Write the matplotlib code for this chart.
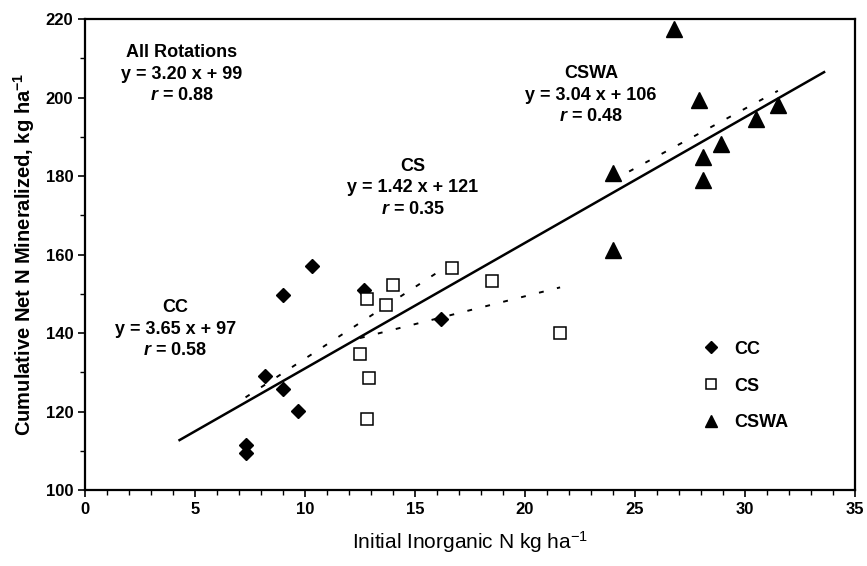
import numpy as np
import matplotlib
matplotlib.use('Agg')
import matplotlib.pyplot as plt

# Datos
cc_x = [7.3, 7.3, 8.2, 9.0, 9.0, 9.7, 10.3, 12.7, 16.2]
cc_y = [111.5, 109.5, 129.1, 149.7, 125.7, 120.1, 157.1, 151.0, 143.6]

cs_x = [12.5, 12.8, 12.9, 12.8, 13.7, 14.0, 16.7, 18.5, 21.6]
cs_y = [134.6, 148.6, 128.7, 118.2, 147.1, 152.4, 156.6, 153.3, 140.1]

cswa_x = [24.0, 24.0, 26.8, 27.9, 28.1, 28.1, 28.9, 30.5, 31.5]
cswa_y = [180.8, 161.1, 217.6, 199.4, 179.0, 184.8, 188.3, 194.5, 198.1]

# rectas de regresión: pendiente, ordenada, rango de x
fit_names = ['All Rotations', 'CC', 'CS', 'CSWA']
fit_slope = [3.20, 3.65, 1.42, 3.04]
fit_icpt = [99, 97, 121, 106]
fit_r = [0.88, 0.58, 0.35, 0.48]
fit_xmin = [4.3, 7.3, 12.5, 24.0]
fit_xmax = [33.6, 16.2, 21.6, 31.5]

plt.rcParams['font.family'] = ['Liberation Sans', 'DejaVu Sans']
plt.rcParams['font.weight'] = 'bold'
plt.rcParams['mathtext.fontset'] = 'custom'
plt.rcParams['mathtext.rm'] = 'Liberation Sans'
plt.rcParams['mathtext.it'] = 'Liberation Sans:italic:bold'
plt.rcParams['mathtext.bf'] = 'Liberation Sans:bold'

fig = plt.figure(figsize=(8.67, 5.66), dpi=100)
ax = fig.add_axes([0.098, 0.134, 0.888, 0.832])

# rectas
for i in range(4):
    xs = np.array([fit_xmin[i], fit_xmax[i]])
    ys = fit_slope[i] * xs + fit_icpt[i]
    if i == 0:
        ax.plot(xs, ys, color='black', lw=1.8, zorder=2)
    else:
        ax.plot(xs, ys, color='black', lw=1.4, dashes=(2.5, 7), zorder=2)

ax.plot(cc_x, cc_y, 'D', ms=7.5, color='black', label='CC', zorder=3)
ax.plot(cs_x, cs_y, 's', ms=9, mfc='white', mec='black', mew=1.1, label='CS', zorder=4)
ax.plot(cswa_x, cswa_y, '^', ms=11, color='black', label='CSWA', zorder=3)

# textos de las ecuaciones
txt_pos = [(4.4, 206), (4.1, 141), (14.9, 177), (23.0, 200.6)]
for i in range(4):
    s = fit_names[i] + '\n' + 'y = %.2f x + %d' % (fit_slope[i], fit_icpt[i]) + '\n' + r'$\it{r}$ = %.2f' % fit_r[i]
    ax.text(txt_pos[i][0], txt_pos[i][1], s, ha='center', va='center', fontsize=13,
            fontweight='bold', linespacing=1.35)

ax.set_xlim(0, 35)
ax.set_ylim(100, 220)
ax.set_xticks(np.arange(0, 36, 5))
ax.set_xticks(np.arange(0, 36, 1), minor=True)
ax.set_yticks(np.arange(100, 221, 20))
ax.set_yticks(np.arange(100, 221, 10), minor=True)
ax.tick_params(which='major', direction='out', length=5, width=1.2, labelsize=12)
ax.tick_params(which='minor', direction='out', length=3.5, width=1)
for sp in ax.spines.values():
    sp.set_linewidth(1.6)

ax.set_xlabel(r'Initial Inorganic N kg ha$^{\mathregular{-1}}$', fontsize=15,
              fontweight='normal', labelpad=9)
ax.set_ylabel(r'Cumulative Net N Mineralized, kg ha$^{\mathbf{-1}}$', fontsize=14.5,
              fontweight='bold', labelpad=6)

ax.legend(loc='center left', bbox_to_anchor=(0.79, 0.221), frameon=False,
          prop={'weight': 'bold', 'size': 13}, handlelength=1, handletextpad=0.8,
          labelspacing=1.1, borderpad=0, markerscale=0.75)

fig.savefig('out.png', dpi=100)
